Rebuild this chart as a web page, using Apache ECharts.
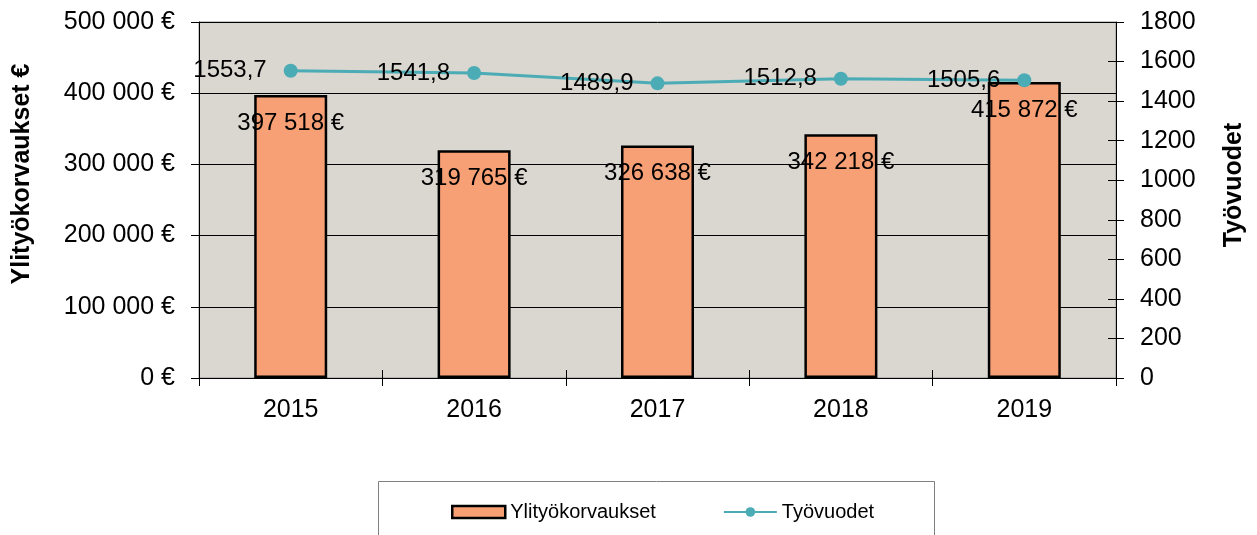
<!DOCTYPE html>
<html><head><meta charset="utf-8">
<script src="https://cdn.jsdelivr.net/npm/echarts@6/dist/echarts.min.js"></script>
<style>html,body{margin:0;padding:0;background:#fff}#c{width:1257px;height:535px}</style>
</head><body><div id="c"></div>
<script>
const categories = ['2015','2016','2017','2018','2019'];
const overtimePay = [397518, 319765, 326638, 342218, 415872];
const workYears = [1553.7, 1541.8, 1489.9, 1512.8, 1505.6];
const seriesNames = ['Ylityökorvaukset', 'Työvuodet'];
const leftAxisName = 'Ylityökorvaukset €';
const rightAxisName = 'Työvuodet';

const FONT = '"Liberation Sans", Arial, sans-serif';
const fmtEur = v => String(Math.round(v)).replace(/\B(?=(\d{3})+(?!\d))/g, ' ') + ' €';
const fmtDec = v => v.toFixed(1).replace('.', ',');

const chart = echarts.init(document.getElementById('c'), null, {renderer: 'canvas'});
chart.setOption({
  animation: false,
  textStyle: {fontFamily: FONT},
  graphic: [{
    type: 'rect', left: 378, top: 481, z: -1,
    shape: {width: 556, height: 80},
    style: {fill: '#fff', stroke: '#808080', lineWidth: 1}
  }, {
    type: 'text', x: 22, y: 174, rotation: Math.PI / 2,
    style: {text: leftAxisName, font: 'bold 25px ' + FONT, fill: '#000', align: 'center', verticalAlign: 'middle'}
  }, {
    type: 'text', x: 1234, y: 185, rotation: Math.PI / 2,
    style: {text: rightAxisName, font: 'bold 25px ' + FONT, fill: '#000', align: 'center', verticalAlign: 'middle'}
  }],
  legend: {
    top: 497, left: 446, itemGap: 67,
    itemWidth: 53, itemHeight: 12,
    textStyle: {fontFamily: FONT, fontSize: 20, color: '#000'},
    data: [
      {name: seriesNames[0], icon: 'rect', itemStyle: {color: '#F7A076', borderColor: '#000', borderWidth: 2.5}},
      {name: seriesNames[1]}
    ]
  },
  grid: {left: 199, right: 141, top: 22, bottom: 157, outerBoundsMode: 'none', containLabel: false,
    show: true, backgroundColor: '#D9D7D0', borderColor: '#909090', borderWidth: 1},
  xAxis: [{
    type: 'category', data: categories, boundaryGap: true,
    axisLine: {lineStyle: {color: '#000', width: 1}},
    axisTick: {show: true, length: 8, inside: false, lineStyle: {color: '#000'}},
    axisLabel: {fontSize: 25, color: '#000', margin: 20, fontFamily: FONT}
  }, {
    type: 'category', data: categories, boundaryGap: true, position: 'bottom',
    axisLine: {show: false}, axisLabel: {show: false},
    axisTick: {show: true, length: 8, inside: true, lineStyle: {color: '#000'}}
  }],
  yAxis: [{
    type: 'value', min: 0, max: 500000, interval: 100000,
    axisLine: {show: true, lineStyle: {color: '#000'}},
    axisTick: {show: true, length: 8, lineStyle: {color: '#000'}},
    axisLabel: {fontSize: 25, color: '#000', margin: 24, formatter: fmtEur, fontFamily: FONT},
    splitLine: {show: true, lineStyle: {color: '#000', width: 1}}
  }, {
    type: 'value', min: 0, max: 1800, interval: 200, position: 'right',
    axisLine: {show: true, lineStyle: {color: '#000'}},
    axisTick: {show: true, length: 8, lineStyle: {color: '#000'}},
    axisLabel: {fontSize: 25, color: '#000', margin: 24, fontFamily: FONT, formatter: v => String(v)},
    splitLine: {show: false}
  }, {
    type: 'value', min: 0, max: 1800, interval: 200, position: 'right',
    axisLine: {show: false}, axisLabel: {show: false}, splitLine: {show: false},
    axisTick: {show: true, inside: true, length: 8, lineStyle: {color: '#000'}}
  }],
  series: [{
    name: seriesNames[0], type: 'bar', data: overtimePay, barWidth: 73,
    itemStyle: {color: '#F7A076', borderColor: '#000', borderWidth: 2.5},
    label: {show: true, position: 'insideTop', distance: 16, fontSize: 24, color: '#000', fontFamily: FONT,
      formatter: p => fmtEur(p.value)}
  }, {
    name: seriesNames[1], type: 'line', yAxisIndex: 1, data: workYears,
    symbol: 'circle', symbolSize: 14, z: 5,
    itemStyle: {color: '#4BACB6'}, lineStyle: {color: '#4BACB6', width: 3},
    label: {show: true, position: 'left', distance: 17, fontSize: 24, color: '#000', fontFamily: FONT,
      formatter: p => fmtDec(p.value)}
  }]
});
</script></body></html>
